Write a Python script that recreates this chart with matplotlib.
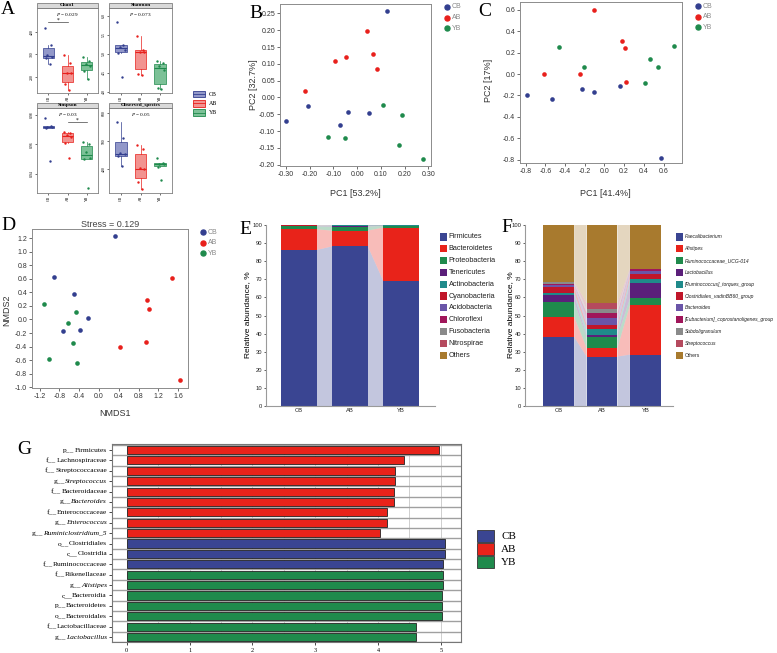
import numpy as np
import matplotlib
matplotlib.use('Agg')
import matplotlib.pyplot as plt
from matplotlib import font_manager
from matplotlib.patches import Rectangle, Polygon
from matplotlib.lines import Line2D

plt.rcParams['font.family'] = ['Liberation Sans', 'DejaVu Sans']
plt.rcParams['mathtext.fontset'] = 'custom'
plt.rcParams['mathtext.rm'] = 'Liberation Serif'
plt.rcParams['mathtext.it'] = 'Liberation Serif:italic'
plt.rcParams['mathtext.bf'] = 'Liberation Serif:bold'

try:
    font_manager.findfont('Liberation Sans Narrow', fallback_to_default=False)
    narrow = 'Liberation Sans Narrow'
except ValueError:
    narrow = 'Liberation Sans'

W, H = 777, 653
groups = ['CB', 'AB', 'YB']
grp_col = {'CB': '#333f8f', 'AB': '#e8201c', 'YB': '#1f8a4c'}
box_fill = {'CB': '#9298c9', 'AB': '#f29390', 'YB': '#7cc197'}

# A: alpha diversity
chao1 = {'CB': [416, 341, 296, 290, 282, 257],
         'AB': [297, 260, 219, 216, 167, 144],
         'YB': [290, 272, 257, 248, 227, 192]}
shannon = {'CB': [5.82, 5.23, 5.18, 5.10, 5.01, 4.39],
           'AB': [5.46, 5.10, 5.05, 5.03, 4.46, 4.44],
           'YB': [4.81, 4.75, 4.66, 4.57, 4.09, 4.06]}
simpson = {'CB': [0.9777, 0.9725, 0.9720, 0.9716, 0.9711, 0.9489],
           'AB': [0.9686, 0.9680, 0.9664, 0.9652, 0.9607, 0.9505],
           'YB': [0.9618, 0.9602, 0.9550, 0.9505, 0.9498, 0.9300]}
observed = {'CB': [570, 510, 455, 452, 445, 410],
            'AB': [486, 470, 401, 399, 353, 325],
            'YB': [437, 419, 418, 416, 407, 359]}
jitter = [-0.18, 0.12, -0.05, 0.2, -0.12, 0.06]

# B, C: PCoA / PCA, D: NMDS
pcoa_x = {'CB': [0.124, -0.206, -0.30, -0.04, 0.05, -0.074],
          'AB': [0.04, 0.065, -0.047, -0.095, 0.085, -0.218],
          'YB': [0.11, 0.188, -0.123, -0.053, 0.175, 0.279]}
pcoa_y = {'CB': [0.257, -0.026, -0.07, -0.044, -0.045, -0.083],
          'AB': [0.199, 0.129, 0.12, 0.109, 0.084, 0.02],
          'YB': [-0.023, -0.053, -0.117, -0.12, -0.142, -0.183]}
pca_x = {'CB': [-0.79, -0.537, -0.231, -0.109, 0.16, 0.577],
         'AB': [-0.102, 0.183, 0.204, -0.618, -0.251, 0.217],
         'YB': [-0.465, -0.207, 0.71, 0.462, 0.54, 0.407]}
pca_y = {'CB': [-0.195, -0.232, -0.136, -0.17, -0.115, -0.786],
         'AB': [0.6, 0.31, 0.241, 0.003, 0.0, -0.074],
         'YB': [0.254, 0.065, 0.263, 0.136, 0.062, -0.084]}
nmds_x = {'CB': [0.32, -0.90, -0.50, -0.23, -0.38, -0.72],
          'AB': [1.47, 0.96, 1.0, 0.94, 0.42, 1.64],
          'YB': [-1.12, -0.46, -0.63, -0.52, -1.0, -0.44]}
nmds_y = {'CB': [1.235, 0.627, 0.377, 0.02, -0.152, -0.176],
          'AB': [0.618, 0.28, 0.157, -0.333, -0.407, -0.887],
          'YB': [0.225, 0.108, -0.049, -0.348, -0.588, -0.647]}

# E: phylum level
phyla = ['Firmicutes', 'Bacteroidetes', 'Proteobacteria', 'Tenericutes', 'Actinobacteria',
         'Cyanobacteria', 'Acidobacteria', 'Chloroflexi', 'Fusobacteria', 'Nitrospirae', 'Others']
firmicutes = [86.2, 88.2, 69.3]
bacteroidetes = [11.4, 8.7, 29.3]
proteobacteria = [1.6, 2.2, 0.9]
tenericutes = [0.3, 0.5, 0.1]
actinobacteria = [0.2, 0.2, 0.2]
cyanobacteria = [0.1, 0.1, 0.05]
acidobacteria = [0.05, 0.05, 0.05]
chloroflexi = [0.03, 0.03, 0.03]
fusobacteria = [0.02, 0.02, 0.02]
nitrospirae = [0.01, 0.01, 0.01]

# F: genus level
genera = ['Faecalibacterium', 'Alistipes', 'Ruminococcaceae_UCG-014', 'Lactobacillus',
          '[Ruminococcus]_torques_group', 'Clostridiales_vadinBB60_group', 'Bacteroides',
          '[Eubacterium]_coprostanoligenes_group', 'Subdoligranulum', 'Streptococcus', 'Others']
faecalibacterium = [38.2, 27.3, 28.4]
alistipes = [11.1, 4.7, 27.3]
rumino_ucg014 = [8.4, 6.2, 3.7]
lactobacillus = [3.6, 0.8, 8.5]
rumino_torques = [1.4, 3.8, 2.2]
vadinbb60 = [3.2, 2.2, 2.6]
bacteroides = [0.9, 3.7, 1.8]
eubacterium = [0.8, 2.8, 1.0]
subdoligranulum = [0.8, 2.0, 0.2]
streptococcus = [0.3, 3.3, 0.1]

taxa_cols = ['#3a4592', '#e8231a', '#1f8a4c', '#5b1f7a', '#1f8a8a', '#c0162a',
             '#6a55a8', '#a0165a', '#8a8a8a', '#b54a5e', '#a87a2e']

# G: LEfSe (rank prefix, taxon name)
lda_prefix = ['p__', 'f__', 'f__', 'g__', 'f__', 'g__', 'f__', 'g__', 'g__', 'o__', 'c__',
              'f__', 'f__', 'g__', 'c__', 'p__', 'o__', 'f__', 'g__']
lda_names = ['Firmicutes', 'Lachnospiraceae', 'Streptococcaceae', 'Streptococcus',
             'Bacteroidaceae', 'Bacteroides', 'Enterococcaceae', 'Enterococcus',
             'Ruminiclostridium_5', 'Clostridiales', 'Clostridia', 'Ruminococcaceae',
             'Rikenellaceae', 'Alistipes', 'Bacteroidia', 'Bacteroidetes', 'Bacteroidales',
             'Lactobacillaceae', 'Lactobacillus']
lda_score = [4.97, 4.42, 4.27, 4.27, 4.25, 4.25, 4.14, 4.14, 4.03,
             5.06, 5.06, 5.04, 5.04, 5.04, 5.01, 5.01, 5.01, 4.61, 4.61]
lda_group = ['AB'] * 9 + ['CB'] * 3 + ['YB'] * 7
lda_col = {'CB': '#3a4592', 'AB': '#e8231a', 'YB': '#1f8a4c'}

fig = plt.figure(figsize=(W / 100, H / 100), dpi=100)


def px(x0, y0, x1, y1):
    return [x0 / W, 1 - y1 / H, (x1 - x0) / W, (y1 - y0) / H]


def ftext(x, y, s, **kw):
    return fig.text(x / W, 1 - y / H, s, **kw)


def fig_rect(x0, y0, w, h, **kw):
    fig.add_artist(Rectangle((x0 / W, 1 - (y0 + h) / H), w / W, h / H,
                             transform=fig.transFigure, **kw))


# panel letters
serif = 'Liberation Serif'
for lab, x, y in [('A', 8, 10), ('B', 256, 13), ('C', 485, 12), ('D', 8, 226),
                  ('E', 245, 230), ('F', 507, 228), ('G', 24, 450)]:
    ftext(x, y, lab, family=serif, fontsize=14, ha='center', va='center')


def alpha_panel(rect, name, data, ylim, ticks, ptxt, sig=None):
    ax = fig.add_axes(px(*rect))
    vals = [data[g] for g in groups]
    bp = ax.boxplot(vals, positions=[1, 2, 3], widths=0.6, patch_artist=True,
                    showfliers=False)
    for i, g in enumerate(groups):
        c = grp_col[g]
        bp['boxes'][i].set(facecolor=box_fill[g], edgecolor=c, linewidth=0.5)
        bp['medians'][i].set(color=c, linewidth=0.8)
        for w in bp['whiskers'][2 * i:2 * i + 2]:
            w.set(color=c, linewidth=0.5)
        for cap in bp['caps'][2 * i:2 * i + 2]:
            cap.set_visible(False)
        ax.scatter(i + 1 + np.array(jitter), vals[i], s=3, color=c, zorder=3, linewidths=0)
    ax.set_xlim(0.4, 3.6)
    ax.set_ylim(*ylim)
    ax.set_yticks(ticks)
    ax.set_xticks([1, 2, 3])
    ax.set_xticklabels(groups, rotation=90, fontsize=2.8, family=serif)
    ax.tick_params(axis='y', labelsize=2.8, labelrotation=90, length=1.2, width=0.4, pad=1)
    ax.tick_params(axis='x', length=1.2, width=0.4, pad=1)
    for lab in ax.get_yticklabels():
        lab.set_family(serif)
        lab.set_va('center')
    for s in ax.spines.values():
        s.set_color('#808080')
        s.set_linewidth(0.6)
    sh = 0.068
    ax.add_patch(Rectangle((0, 1), 1, sh, transform=ax.transAxes, clip_on=False,
                           fc='#d9d9d9', ec='#808080', lw=0.6))
    ax.text(0.5, 1 + sh / 2, name, transform=ax.transAxes, ha='center', va='center',
            fontsize=3.8, fontweight='bold', family=serif)
    ax.text(0.5, 0.93, r'$\mathit{P}$ = ' + ptxt, transform=ax.transAxes, ha='center',
            va='center', fontsize=3.8, family=serif)
    if sig is not None:
        a, b, yv = sig
        ax.plot([a, b], [yv, yv], color='#444444', lw=0.5)
        ax.text((a + b) / 2, yv, '*', ha='center', va='bottom', fontsize=4, family=serif)


alpha_panel((37, 8.3, 98, 92.7), 'Chao1', chao1, (130, 504), [200, 300, 400], '0.029', (1, 2, 442))
alpha_panel((109, 8.3, 172, 92.7), 'Shannon', shannon, (3.97, 6.19), [4.0, 4.5, 5.0, 5.5, 6.0], '0.073')
alpha_panel((37, 108.3, 98, 192.7), 'Simpson', simpson, (0.927, 0.9845), [0.94, 0.96, 0.98], '0.03',
            (2, 3, 0.975))
alpha_panel((109, 108.3, 172, 192.7), 'Observed_species', observed, (313, 618), [400, 500, 600], '0.05')

for i, g in enumerate(groups):
    yc = 94 + i * 9.3
    fig_rect(193, yc - 3.2, 12, 6.4, fc=box_fill[g], ec=grp_col[g], lw=0.6)
    fig.add_artist(Line2D([193 / W, 205 / W], [1 - yc / H] * 2, color=grp_col[g], lw=0.6,
                          transform=fig.transFigure))
    ftext(209, yc, g, family=serif, fontsize=4.3, va='center')


# scatter panels
def ord_panel(rect, xs, ys, xlim, ylim, xt, yt, fmt, leg_xy):
    ax = fig.add_axes(px(*rect))
    for g in groups:
        ax.scatter(xs[g], ys[g], s=11, color=grp_col[g], linewidths=0, zorder=3)
    ax.set_xlim(*xlim)
    ax.set_ylim(*ylim)
    ax.set_xticks(xt)
    ax.set_yticks(yt)
    ax.set_xticklabels([fmt.format(v) for v in xt])
    ax.set_yticklabels([fmt.format(v) for v in yt])
    ax.tick_params(labelsize=5, colors='#333333', length=2, width=0.5, pad=1.5)
    for s in ax.spines.values():
        s.set_color('#8c8c8c')
        s.set_linewidth(0.7)
    lx, ly = leg_xy
    for i, g in enumerate(groups):
        fig.add_artist(Line2D([lx / W], [1 - (ly + i * 10.7) / H], marker='o', ms=3.6,
                              color=grp_col[g], ls='none', transform=fig.transFigure))
        ftext(lx + 5, ly + i * 10.7, g, fontsize=5, color='#888888', va='center')
    return ax


ord_panel((280, 4, 431, 166), pcoa_x, pcoa_y, (-0.325, 0.311), (-0.204, 0.278),
          [-0.30, -0.20, -0.10, 0.00, 0.10, 0.20, 0.30],
          [-0.20, -0.15, -0.10, -0.05, 0.00, 0.05, 0.10, 0.15, 0.20, 0.25], '{:.2f}', (447, 7))
ftext(355, 193, 'PC1 [53.2%]', fontsize=6.5, color='#333333', ha='center', va='center')
ftext(254, 85, 'PC2 [32.7%]', fontsize=6.5, color='#333333', ha='center', va='center', rotation=90)

ord_panel((520, 2, 682, 163), pca_x, pca_y, (-0.859, 0.788), (-0.83, 0.672),
          [-0.8, -0.6, -0.4, -0.2, 0.0, 0.2, 0.4, 0.6],
          [-0.8, -0.6, -0.4, -0.2, 0.0, 0.2, 0.4, 0.6], '{:.1f}', (698, 6))
ftext(605, 193, 'PC1 [41.4%]', fontsize=6.5, color='#333333', ha='center', va='center')
ftext(488, 80, 'PC2 [17%]', fontsize=6.5, color='#333333', ha='center', va='center', rotation=90)

axd = ord_panel((32, 229, 188, 388), nmds_x, nmds_y, (-1.353, 1.797), (-1.01, 1.333),
                [-1.2, -0.8, -0.4, 0.0, 0.4, 0.8, 1.2, 1.6],
                [-1.0, -0.8, -0.6, -0.4, -0.2, 0.0, 0.2, 0.4, 0.6, 0.8, 1.0, 1.2], '{:.1f}', (203, 232))
axd.set_title('Stress = 0.129', fontsize=6.5, color='#444444', pad=1.5)
ftext(115, 414, 'NMDS1', fontsize=6.5, color='#333333', ha='center', va='center')
ftext(7, 310, 'NMDS2', fontsize=6.5, color='#333333', ha='center', va='center', rotation=90)


# stacked bars
def stacked(rect, series, names, xlim, bw, leg_x, italic, leg_fs):
    ax = fig.add_axes(px(*rect))
    x = np.arange(3)
    rest = 100 - np.sum(series, axis=0)
    series = list(series) + [rest]
    bottoms = np.zeros(3)
    for vals, c in zip(series, taxa_cols):
        vals = np.array(vals, dtype=float)
        ax.bar(x, vals, width=bw, bottom=bottoms, color=c, edgecolor='none', zorder=2)
        for i in range(2):
            ax.add_patch(Polygon([(x[i] + bw / 2, bottoms[i]), (x[i + 1] - bw / 2, bottoms[i + 1]),
                                  (x[i + 1] - bw / 2, bottoms[i + 1] + vals[i + 1]),
                                  (x[i] + bw / 2, bottoms[i] + vals[i])],
                                 closed=True, fc=c, alpha=0.3, ec='none', zorder=1))
        bottoms = bottoms + vals
    ax.set_xlim(*xlim)
    ax.set_ylim(0, 100)
    ax.set_yticks(np.arange(0, 101, 10))
    ax.set_xticks(x)
    ax.set_xticklabels(groups)
    ax.tick_params(labelsize=4.2, length=1.5, width=0.5, pad=1.2, colors='#222222')
    ax.tick_params(axis='x', length=0)
    for s in ['top', 'right']:
        ax.spines[s].set_visible(False)
    for s in ['left', 'bottom']:
        ax.spines[s].set_color('#9a9a9a')
        ax.spines[s].set_linewidth(0.8)
    for i, (nm, c) in enumerate(zip(names, taxa_cols)):
        yc = 237 + i * 11.8
        fig_rect(leg_x, yc - 3.5, 6.5, 7, fc=c, ec='none')
        st = 'italic' if (italic and nm != 'Others') else 'normal'
        ftext(leg_x + 8.5, yc, nm, fontsize=leg_fs, va='center', style=st, color='#222222',
              family=[narrow, 'Liberation Sans'])
    return ax


stacked((266, 225, 435, 406),
        [firmicutes, bacteroidetes, proteobacteria, tenericutes, actinobacteria, cyanobacteria,
         acidobacteria, chloroflexi, fusobacteria, nitrospirae],
        phyla, (-0.647, 2.667), 0.70, 440, False, 5.2)
ftext(248, 315, 'Relative abundance, %', fontsize=6.0, ha='center', va='center', rotation=90)

stacked((525, 225, 673, 406),
        [faecalibacterium, alistipes, rumino_ucg014, lactobacillus, rumino_torques, vadinbb60,
         bacteroides, eubacterium, subdoligranulum, streptococcus],
        genera, (-0.78, 2.64), 0.71, 676, True, 3.6)
ftext(511, 315, 'Relative abundance, %', fontsize=6.0, ha='center', va='center', rotation=90)

# G: LDA bars
gx0, gx1 = 112, 461
axg = fig.add_axes(px(gx0, 444, gx1, 642))
n = len(lda_names)
yy = np.arange(n)[::-1]
axg.barh(yy, lda_score, height=0.78, color=[lda_col[g] for g in lda_group],
         edgecolor='#222222', linewidth=0.6, zorder=3)
for k in range(n + 1):
    axg.axhline(k - 0.5, color='#a0a0a0', lw=1.0, zorder=2)
for v in np.arange(0, 5.5, 0.5):
    axg.axvline(v, color='#cfcfcf', lw=0.7, zorder=1)
axg.set_xlim(-0.234, 5.32)
axg.set_ylim(-0.48, n - 1 + 0.58)
axg.set_yticks(yy)
axg.set_yticklabels([])
axg.set_xticks(range(6))
axg.set_xticklabels([str(v) for v in range(6)], family=serif, fontsize=4.5)
axg.tick_params(length=2, width=0.5, pad=2)
for s in axg.spines.values():
    s.set_color('#777777')
    s.set_linewidth(0.8)

# taxon labels: rank prefix upright, genus names italic
renderer = fig.canvas.get_renderer()
trans = axg.get_yaxis_transform()
axw = gx1 - gx0
lab_x = -5.0 / axw
for yv, pre, nm in zip(yy, lda_prefix, lda_names):
    st = 'italic' if pre == 'g__' else 'normal'
    t = axg.text(lab_x, yv, nm, transform=trans, ha='right', va='center',
                 family=serif, fontsize=5.4, style=st)
    wpx = t.get_window_extent(renderer).width
    axg.text(lab_x - (wpx + 0.2) / axw, yv, pre, transform=trans, ha='right', va='center',
             family=serif, fontsize=5.4)

for i, g in enumerate(groups):
    y0 = 530 + i * 13
    fig_rect(477, y0, 17, 12, fc=lda_col[g], ec='#333333', lw=0.6)
    ftext(501, y0 + 6.3, g, family=serif, fontsize=8, va='center')

fig.savefig('out.png', dpi=100)
